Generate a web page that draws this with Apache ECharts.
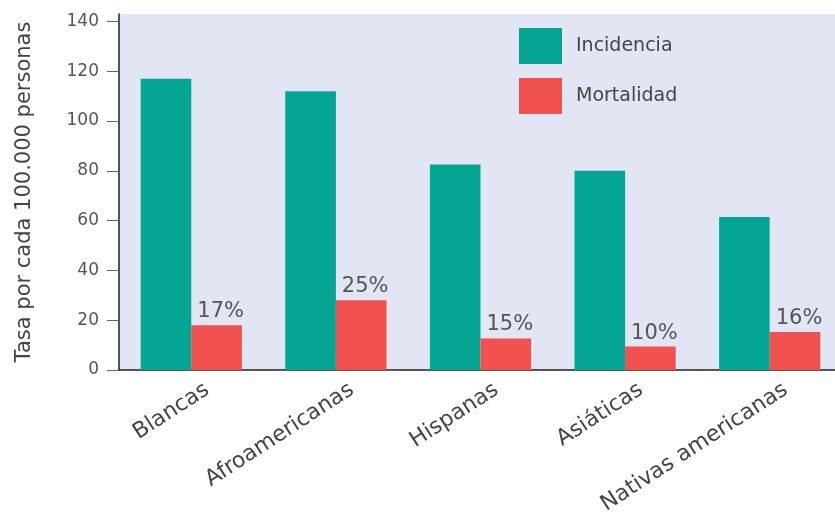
<!DOCTYPE html>
<html>
<head>
<meta charset="utf-8">
<script src="https://cdn.jsdelivr.net/npm/echarts@6/dist/echarts.min.js"></script>
<style>
html,body{margin:0;padding:0;background:#fff;}
#chart{width:835px;height:521px;}
</style>
</head>
<body>
<div id="chart"></div>
<script>
const categories = ['Blancas', 'Afroamericanas', 'Hispanas', 'Asiáticas', 'Nativas americanas'];
const incidencia = [117, 112, 82.5, 80, 61.5];
const mortalidad = [18, 28, 12.7, 9.4, 15.3];
const mortalidadLabels = ['17%', '25%', '15%', '10%', '16%'];
const yTicks = [0, 20, 40, 60, 80, 100, 120, 140];
const seriesNames = ['Incidencia', 'Mortalidad'];

const FONT = 'DejaVu Sans';
const chart = echarts.init(document.getElementById('chart'), null, {renderer: 'canvas'});
chart.setOption({
  animation: false,
  backgroundColor: '#ffffff',
  textStyle: {fontFamily: FONT},
  grid: [
    {left: 119, top: 14, width: 723, bottom: 151, outerBoundsMode: 'none', containLabel: false,
     show: true, backgroundColor: '#e2e6f4', borderWidth: 0},
    {left: 135, top: 14, width: 723, bottom: 151, outerBoundsMode: 'none', containLabel: false, show: false}
  ],
  legend: {
    orient: 'vertical',
    left: 519, top: 28, padding: 0,
    itemWidth: 43, itemHeight: 36, itemGap: 14,
    icon: 'rect',
    data: seriesNames,
    textStyle: {fontFamily: FONT, fontSize: 19, color: '#444', padding: [0, 0, 0, 9]}
  },
  xAxis: [
    {
      type: 'category', gridIndex: 0,
      data: categories,
      axisLine: {lineStyle: {color: '#222', width: 1.5}},
      axisTick: {show: false},
      axisLabel: {show: false}
    },
    {
      type: 'category', gridIndex: 1,
      data: categories,
      axisLine: {show: false},
      axisTick: {show: false},
      axisLabel: {
        rotate: 33, margin: 18, interval: 0,
        fontFamily: FONT, fontSize: 22, color: '#444'
      }
    }
  ],
  yAxis: [
    {
      type: 'value', gridIndex: 0,
      min: 0, max: 143,
      name: 'Tasa por cada 100.000 personas',
      nameLocation: 'middle',
      nameGap: 84,
      nameRotate: 90,
      nameTextStyle: {fontFamily: FONT, fontSize: 21, color: '#444'},
      splitLine: {show: false},
      axisLine: {show: true, lineStyle: {color: '#222', width: 1.5}},
      axisTick: {show: true, length: 12, customValues: yTicks, lineStyle: {color: '#666'}},
      axisLabel: {customValues: yTicks, margin: 20, fontFamily: FONT, fontSize: 17, color: '#555'}
    },
    {
      type: 'value', gridIndex: 1, min: 0, max: 143, show: false
    }
  ],
  series: [
    {
      name: seriesNames[0], type: 'bar', data: incidencia,
      xAxisIndex: 0, yAxisIndex: 0,
      barGap: '0%', barCategoryGap: '30%',
      itemStyle: {color: '#04a592'}
    },
    {
      name: seriesNames[1], type: 'bar', data: mortalidad,
      xAxisIndex: 0, yAxisIndex: 0,
      itemStyle: {color: '#f0514f'},
      label: {
        show: true, position: 'top', distance: 3, offset: [4, 0],
        fontFamily: FONT, fontSize: 21, color: '#555',
        formatter: p => mortalidadLabels[p.dataIndex]
      }
    }
  ]
});
</script>
</body>
</html>
